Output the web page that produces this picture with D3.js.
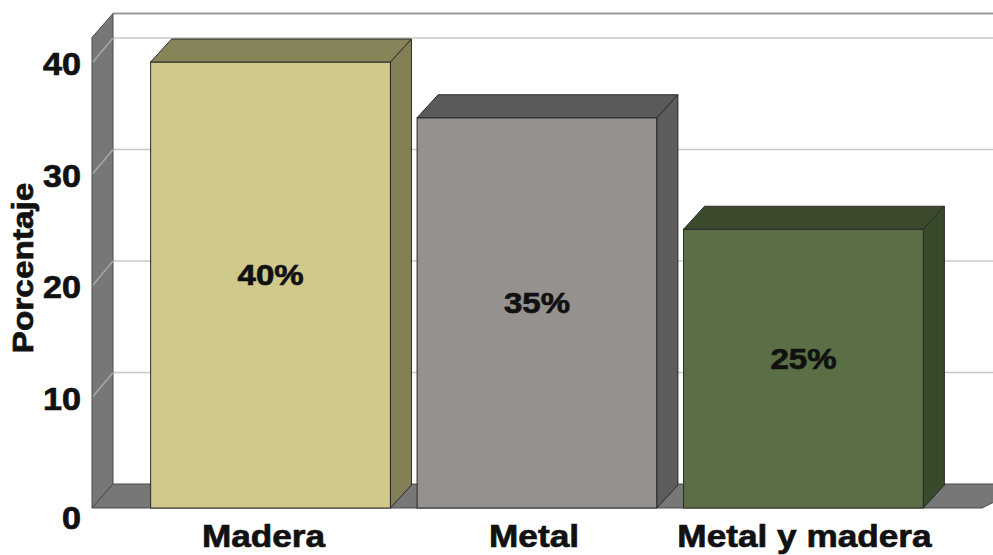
<!DOCTYPE html>
<html>
<head>
<meta charset="utf-8">
<script src="https://cdn.jsdelivr.net/npm/d3@7"></script>
<style>
  body { margin: 0; background: #fff; }
  text { font-family: 'Liberation Sans', Arial, sans-serif; font-weight: bold; fill: #111; stroke: #111; stroke-width: 0.7px; }
</style>
</head>
<body>
<div id="chart"></div>
<script>
const categories = ['Madera', 'Metal', 'Metal y madera']
const values = [40, 35, 25]
const barLabels = ['40%', '35%', '25%']
const yTicks = [0, 10, 20, 30, 40]
const frontColors = ['#cfc98c', '#95918f', '#5a6f45']
const topColors = ['#87845a', '#5c5a59', '#3b4a2d']
const sideColors = ['#838057', '#5f5d5c', '#394a2c']

const width = 993, height = 555
const svg = d3.select('#chart').append('svg').attr('width', width).attr('height', height)

// depth offset of the 3d look
const dx = 21, dy = 24
const wallMax = 42.2

const x = d3.scaleBand().domain(categories).range([92, 982]).paddingInner(0.1).paddingOuter(0.22)
const y = d3.scaleLinear().domain([0, 40]).range([508, 62])
const x0 = 92, x1 = 1010

const poly = (pts) => 'M' + pts.map((p) => p.join(',')).join('L') + 'Z'

// back wall top edge
svg.append('line')
	.attr('x1', x0 + dx).attr('x2', x1)
	.attr('y1', y(wallMax) - dy).attr('y2', y(wallMax) - dy)
	.attr('stroke', '#9a9a9a').attr('stroke-width', 2)

// gridlines on back wall
svg.selectAll('.grid')
	.data(yTicks.filter((d) => d > 0))
	.enter()
	.append('line')
	.attr('x1', x0 + dx).attr('x2', x1)
	.attr('y1', (d) => y(d) - dy).attr('y2', (d) => y(d) - dy)
	.attr('stroke', '#c8c8c8').attr('stroke-width', 1.5)

// left wall
svg.append('path')
	.attr('d', poly([[x0, y(wallMax)], [x0 + dx, y(wallMax) - dy], [x0 + dx, y(0) - dy], [x0, y(0)]]))
	.attr('fill', '#777').attr('stroke', '#4a4a4a').attr('stroke-width', 1)

svg.selectAll('.wallgrid')
	.data(yTicks.filter((d) => d > 0))
	.enter()
	.append('line')
	.attr('x1', x0 + 1).attr('x2', x0 + dx)
	.attr('y1', (d) => y(d)).attr('y2', (d) => y(d) - dy)
	.attr('stroke', '#a8a8a8').attr('stroke-width', 1.5)

// floor
svg.append('path')
	.attr('d', poly([[x0, y(0)], [x0 + dx, y(0) - dy], [x1 + dx, y(0) - dy], [x1 - 28, y(0)]]))
	.attr('fill', '#777').attr('stroke', '#4a4a4a').attr('stroke-width', 1)

// bars
const bars = svg.selectAll('.bar')
	.data(values)
	.enter()
	.append('g')

const bw = x.bandwidth()
bars.append('rect')
	.attr('x', (d, i) => x(categories[i]))
	.attr('y', (d) => y(d))
	.attr('width', bw)
	.attr('height', (d) => y(0) - y(d))
	.attr('fill', (d, i) => frontColors[i])
	.attr('stroke', '#2a2a2a').attr('stroke-width', 1)

bars.append('path')
	.attr('d', (d, i) => {
		const l = x(categories[i]), r = l + bw, t = y(d)
		return poly([[l, t], [l + dx, t - dy + 1], [r + dx, t - dy + 1], [r, t]])
	})
	.attr('fill', (d, i) => topColors[i])
	.attr('stroke', '#2a2a2a').attr('stroke-width', 1)

bars.append('path')
	.attr('d', (d, i) => {
		const r = x(categories[i]) + bw, t = y(d)
		return poly([[r, t], [r + dx, t - dy + 1], [r + dx, y(0) - dy + 1], [r, y(0)]])
	})
	.attr('fill', (d, i) => sideColors[i])
	.attr('stroke', '#2a2a2a').attr('stroke-width', 1)

// value labels
bars.append('text')
	.attr('transform', (d, i) => `translate(${x(categories[i]) + bw / 2},${(y(d) + y(0)) / 2}) scale(1.1,1)`)
	.attr('text-anchor', 'middle')
	.attr('font-size', '30px')
	.text((d, i) => barLabels[i])

// category labels
svg.selectAll('.cat')
	.data(categories)
	.enter()
	.append('text')
	.attr('transform', (d, i) => `translate(${x(d) + bw / 2 + (i - 1) * 4 - 3},547) scale(1.1,1)`)
	.attr('text-anchor', 'middle')
	.attr('font-size', '32px')
	.text((d) => d)

// y tick labels
svg.selectAll('.tick')
	.data(yTicks)
	.enter()
	.append('text')
	.attr('transform', (d) => `translate(81,${y(d) + (d === 0 ? 11 : 3)}) scale(1.1,1)`)
	.attr('text-anchor', 'end')
	.attr('dominant-baseline', 'central')
	.attr('font-size', '31px')
	.text((d) => d)

// axis title
svg.append('text')
	.attr('transform', 'translate(33,268) rotate(-90) scale(1.15,1)')
	.attr('text-anchor', 'middle')
	.attr('font-size', '29px')
	.text('Porcentaje')
</script>
</body>
</html>
